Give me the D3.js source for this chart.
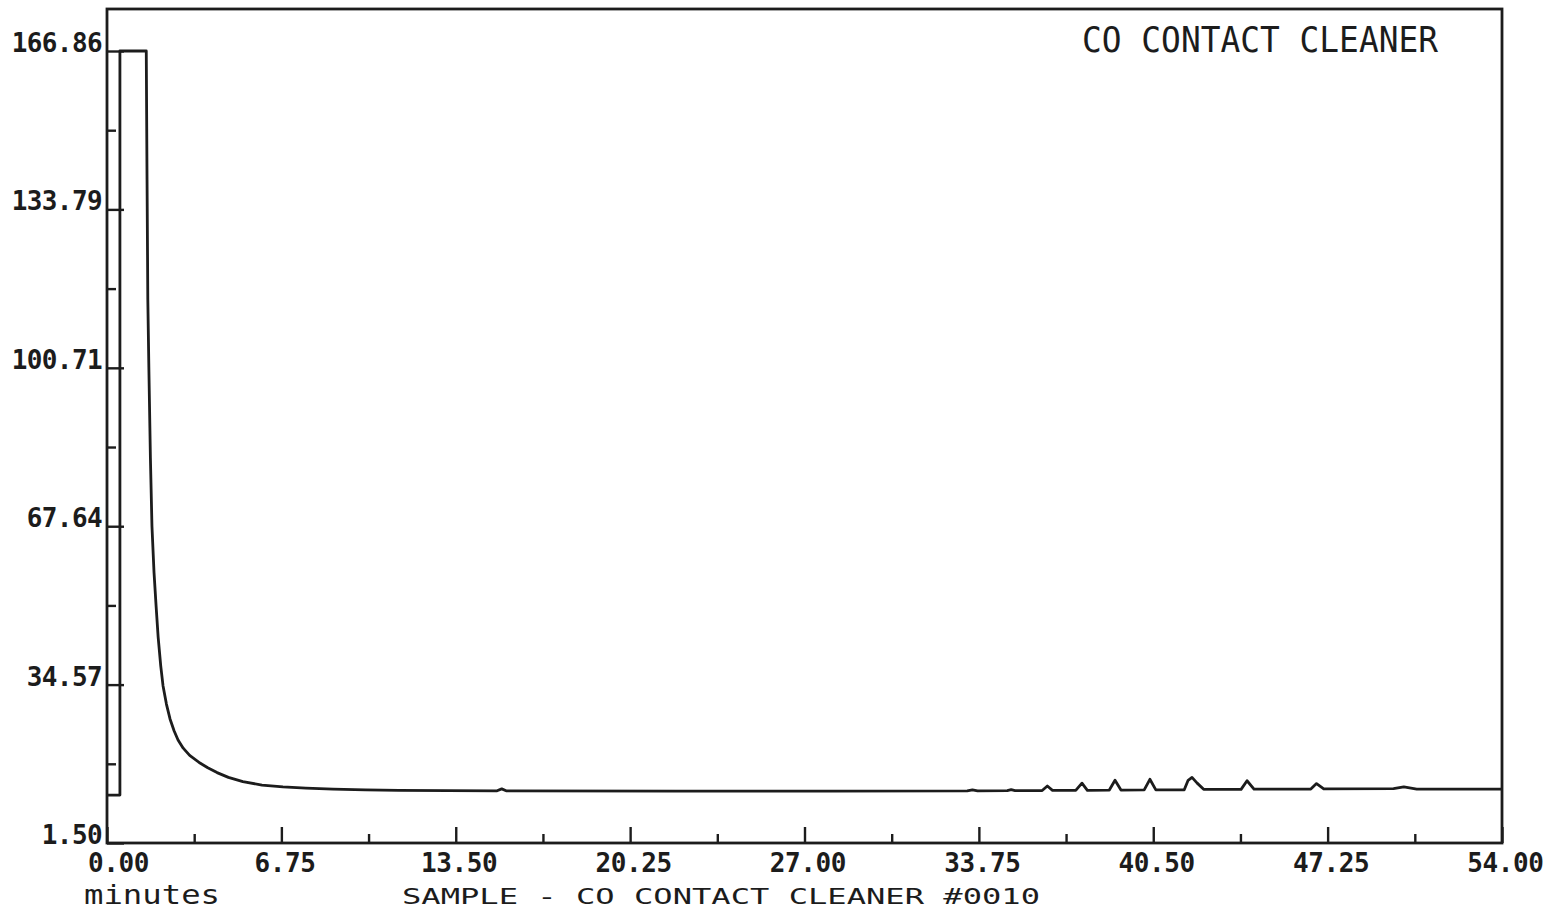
<!DOCTYPE html>
<html>
<head>
<meta charset="utf-8">
<script src="https://cdn.jsdelivr.net/npm/d3@7"></script>
<style>
    html, body { margin: 0; padding: 0; background: #ffffff; }
    #chart-container { width: 1568px; height: 912px; overflow: hidden; }
    .tick text { font-family: "DejaVu Sans Mono", monospace; font-weight: bold; fill: #1c1c1c; }
</style>
</head>
<body>
<div id="chart-container"></div>
<script>
// chromatogram trace (minutes, detector signal)
const minutes = [
    0, 0.5, 0.5, 1.52, 1.55, 1.58, 1.62, 1.68, 1.74, 1.82, 1.90, 1.98, 2.08, 2.17, 2.30, 2.44, 2.60, 2.75, 2.95, 3.20,
    3.60, 3.90, 4.26, 4.70, 5.26, 6.00, 6.81, 7.70, 8.75, 10.0, 11.3,
    15.1, 15.28, 15.45, 22.0, 28.0, 33.3, 33.5, 33.7, 34.85, 35.0, 35.15,
    36.2, 36.4, 36.6, 37.5, 37.74, 37.95, 38.8, 39.02, 39.25, 40.15, 40.37, 40.6,
    41.7, 41.85, 42.0, 42.2, 42.45, 43.9, 44.13, 44.4, 46.6, 46.82, 47.1, 49.8, 50.2, 50.7, 54.0
];
const signal = [
    11.5, 11.5, 166.86, 166.86, 140, 115, 100.9, 82, 67.7, 58, 51, 44.5, 38.5, 34.3, 30.5, 27.4, 24.9, 23.0, 21.3, 19.8,
    18.2, 17.2, 16.2, 15.2, 14.3, 13.6, 13.2, 12.95, 12.75, 12.6, 12.5,
    12.4, 12.8, 12.4, 12.35, 12.35, 12.4, 12.6, 12.4, 12.45, 12.65, 12.45,
    12.45, 13.4, 12.5, 12.5, 14.0, 12.5, 12.55, 14.6, 12.55, 12.6, 14.8, 12.6,
    12.6, 14.6, 15.2, 14.0, 12.7, 12.7, 14.5, 12.75, 12.75, 13.9, 12.8, 12.85, 13.2, 12.75, 12.75
];

const xTicks = [0, 6.75, 13.5, 20.25, 27, 33.75, 40.5, 47.25, 54];
const xMinorTicks = [3.375, 10.125, 16.875, 23.625, 30.375, 37.125, 43.875, 50.625];
const yTicks = [1.50, 34.57, 67.64, 100.71, 133.79, 166.86];
const yMinorTicks = [18.035, 51.105, 84.175, 117.25, 150.325];

const title = "CO CONTACT CLEANER";
const xLabel = "minutes";
const sampleLabel = "SAMPLE - CO CONTACT CLEANER #0010";

function drawChromatogram(width, height) {
    const margin = { top: 9, right: 66, bottom: 69, left: 107 };
    const plotRight = width - margin.right;
    const plotBottom = height - margin.bottom;
    const ink = "#1c1c1c";

    d3.select("#chart-container").select("svg").remove();

    const svg = d3.select("#chart-container")
        .append("svg")
        .attr("width", width)
        .attr("height", height);

    const xScale = d3.scaleLinear()
        .domain([0, 54])
        .range([margin.left, plotRight]);

    // top of the value range sits below the frame top
    const yScale = d3.scaleLinear()
        .domain([1.50, 166.86])
        .range([plotBottom, 51]);

    // frame
    svg.append("rect")
        .attr("x", margin.left)
        .attr("y", margin.top)
        .attr("width", plotRight - margin.left)
        .attr("height", plotBottom - margin.top)
        .attr("fill", "none")
        .attr("stroke", ink)
        .attr("stroke-width", 2.8);

    // y axis, ticks pointing into the plot
    const yAxis = svg.append("g")
        .attr("transform", `translate(${margin.left},0)`)
        .call(d3.axisLeft(yScale).tickValues(yTicks).tickSize(-17).tickPadding(5)
            .tickFormat(d3.format(".2f")));
    yAxis.select(".domain").remove();
    yAxis.selectAll("line").attr("stroke", ink).attr("stroke-width", 2.4);
    yAxis.selectAll("text")
        .attr("dy", "0.02em")
        .style("font-size", "26px")
        .style("letter-spacing", "-0.6px");

    const yMinor = svg.append("g")
        .attr("transform", `translate(${margin.left},0)`)
        .call(d3.axisLeft(yScale).tickValues(yMinorTicks).tickSize(-9).tickFormat(""));
    yMinor.select(".domain").remove();
    yMinor.selectAll("line").attr("stroke", ink).attr("stroke-width", 2.4);

    // x axis, ticks pointing up
    const xAxis = svg.append("g")
        .attr("transform", `translate(0,${plotBottom})`)
        .call(d3.axisBottom(xScale).tickValues(xTicks).tickSize(-16).tickPadding(11)
            .tickFormat(d3.format(".2f")));
    xAxis.select(".domain").remove();
    xAxis.selectAll("line").attr("stroke", ink).attr("stroke-width", 2.4);
    xAxis.selectAll("text")
        .attr("dx", 3)
        .style("font-size", "26px")
        .style("letter-spacing", "-0.4px");
    xAxis.selectAll(".tick text").filter(d => d === 0).attr("dx", 11);

    const xMinor = svg.append("g")
        .attr("transform", `translate(0,${plotBottom})`)
        .call(d3.axisBottom(xScale).tickValues(xMinorTicks).tickSize(-9).tickFormat(""));
    xMinor.select(".domain").remove();
    xMinor.selectAll("line").attr("stroke", ink).attr("stroke-width", 2.4);

    // trace
    const trace = minutes.map((t, i) => ({ t: t, v: signal[i] }));
    const line = d3.line()
        .x(d => xScale(d.t))
        .y(d => yScale(d.v));

    svg.append("path")
        .datum(trace)
        .attr("d", line)
        .attr("fill", "none")
        .attr("stroke", ink)
        .attr("stroke-width", 2.8)
        .attr("stroke-linejoin", "round");

    // labels
    svg.append("text")
        .attr("x", 1082)
        .attr("y", 52)
        .attr("textLength", 356)
        .attr("lengthAdjust", "spacingAndGlyphs")
        .style("font-family", "DejaVu Sans Mono, monospace")
        .style("font-size", "36px")
        .attr("fill", ink)
        .text(title);

    svg.append("text")
        .attr("x", 84)
        .attr("y", 904)
        .attr("textLength", 136)
        .attr("lengthAdjust", "spacingAndGlyphs")
        .style("font-family", "DejaVu Sans Mono, monospace")
        .style("font-size", "27px")
        .attr("fill", ink)
        .text(xLabel);

    // sample line runs along the bottom edge of the page
    svg.append("text")
        .attr("x", 402)
        .attr("y", 904)
        .attr("textLength", 638)
        .attr("lengthAdjust", "spacingAndGlyphs")
        .style("font-family", "DejaVu Sans Mono, monospace")
        .style("font-size", "22px")
        .attr("fill", ink)
        .text(sampleLabel);
}

drawChromatogram(1568, 912);
</script>
</body>
</html>
